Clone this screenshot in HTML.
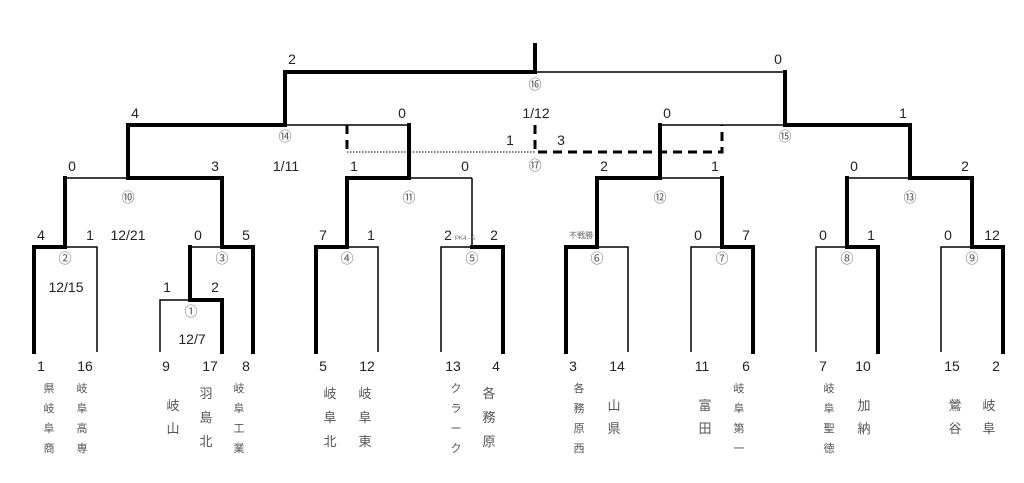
<!DOCTYPE html>
<html><head><meta charset="utf-8"><style>
html,body{margin:0;padding:0;background:#fff;}
svg{display:block;}
text{font-family:"Liberation Sans","Noto Sans CJK JP",sans-serif;fill:#222;}
.s{font-size:14px;text-anchor:middle;}
.c{font-size:13px;text-anchor:middle;fill:#555;}
.n{font-size:13px;text-anchor:middle;fill:#555;}
.ns{font-size:11px;text-anchor:middle;fill:#555;}
</style></head><body>
<svg width="1024" height="483" viewBox="0 0 1024 483" xmlns="http://www.w3.org/2000/svg">
<g fill="none" stroke="#000" stroke-width="1.5">
<!-- thin lines -->
<path d="M65 247H97V352"/>
<path d="M160 352V300H190"/>
<path d="M190 247H222"/>
<path d="M65 178H128"/>
<path d="M347 247H378V352"/>
<path d="M441 352V247H472V178"/>
<path d="M409 178H472"/>
<path d="M285 125H409"/>
<path d="M597 247H628V352"/>
<path d="M691 352V247H722"/>
<path d="M660 178H722V247"/>
<path d="M660 125H785"/>
<path d="M535 72H785"/>
<path d="M816 352V247H847"/>
<path d="M847 178H910"/>
<path d="M941 352V247H972"/>
<path d="M347 152H535" stroke-dasharray="1.5 1.5" stroke-width="1"/>
</g>
<g fill="none" stroke="#000" stroke-width="4" stroke-linecap="square">
<path d="M34 352V247H65V178"/>
<path d="M222 352V300H190V247"/>
<path d="M253 352V247H222V178H128V125H285V72H535V45"/>
<path d="M316 352V247H347V178H409V125"/>
<path d="M503 352V247H472"/>
<path d="M566 352V247H597V178H660V125"/>
<path d="M753 352V247H722V178"/>
<path d="M878 352V247H847V178"/>
<path d="M1003 352V247H972V178H910V125H785V72"/>
</g>
<g fill="none" stroke="#000" stroke-width="3" stroke-dasharray="9 6">
<path d="M347 125V152"/>
<path d="M535 125V152H722V125"/>
</g>
<!-- round1 scores -->
<g class="s">
<text x="41" y="240" class="s">4</text><text x="90" y="240" class="s">1</text>
<text x="198" y="240" class="s">0</text><text x="246" y="240" class="s">5</text>
<text x="323" y="240" class="s">7</text><text x="371" y="240" class="s">1</text>
<text x="448" y="240" class="s">2</text><text x="494" y="240" class="s">2</text>
<text x="698" y="240" class="s">0</text><text x="746" y="240" class="s">7</text>
<text x="823" y="240" class="s">0</text><text x="871" y="240" class="s">1</text>
<text x="948" y="240" class="s">0</text><text x="992" y="240" class="s">12</text>
<text x="167" y="292" class="s">1</text><text x="215" y="292" class="s">2</text>
<text x="72" y="171" class="s">0</text><text x="215" y="171" class="s">3</text>
<text x="354" y="171" class="s">1</text><text x="465" y="171" class="s">0</text>
<text x="604" y="171" class="s">2</text><text x="715" y="171" class="s">1</text>
<text x="854" y="171" class="s">0</text><text x="965" y="171" class="s">2</text>
<text x="135" y="118" class="s">4</text><text x="402" y="118" class="s">0</text>
<text x="667" y="118" class="s">0</text><text x="903" y="118" class="s">1</text>
<text x="292" y="64" class="s">2</text><text x="778" y="64" class="s">0</text>
<text x="510" y="145" class="s">1</text><text x="561" y="145" class="s">3</text>
<text x="128" y="240" class="s">12/21</text>
<text x="66" y="292" class="s">12/15</text>
<text x="192" y="344" class="s">12/7</text>
<text x="286" y="171" class="s">1/11</text>
<text x="536" y="118" class="s">1/12</text>
</g>
<text x="465" y="240" style="font-size:6px;fill:#666;text-anchor:middle">PK4 - 5</text>
<text x="581" y="238" style="font-size:8px;fill:#666;text-anchor:middle">不戦勝</text>
<!-- circled -->
<g>
<text x="65" y="263" class="c">②</text><text x="222" y="263" class="c">③</text>
<text x="347" y="263" class="c">④</text><text x="472" y="263" class="c">⑤</text>
<text x="597" y="263" class="c">⑥</text><text x="722" y="263" class="c">⑦</text>
<text x="847" y="263" class="c">⑧</text><text x="972" y="263" class="c">⑨</text>
<text x="191" y="316" class="c">①</text>
<text x="128" y="202" class="c">⑩</text><text x="409" y="202" class="c">⑪</text>
<text x="660" y="202" class="c">⑫</text><text x="910" y="202" class="c">⑬</text>
<text x="285" y="141" class="c">⑭</text><text x="785" y="141" class="c">⑮</text>
<text x="535" y="89" class="c">⑯</text><text x="535" y="170" class="c">⑰</text>
</g>
<!-- seed numbers -->
<g>
<text x="41" y="371" class="s">1</text><text x="85" y="371" class="s">16</text>
<text x="166" y="371" class="s">9</text><text x="210" y="371" class="s">17</text><text x="246" y="371" class="s">8</text>
<text x="323" y="371" class="s">5</text><text x="367" y="371" class="s">12</text>
<text x="453" y="371" class="s">13</text><text x="496" y="371" class="s">4</text>
<text x="573" y="371" class="s">3</text><text x="617" y="371" class="s">14</text>
<text x="702" y="371" class="s">11</text><text x="746" y="371" class="s">6</text>
<text x="823" y="371" class="s">7</text><text x="863" y="371" class="s">10</text>
<text x="952" y="371" class="s">15</text><text x="996" y="371" class="s">2</text>
</g>
<!-- names -->
<g class="ns">
<text x="49" y="392" class="ns">県</text><text x="49" y="412" class="ns">岐</text><text x="49" y="432" class="ns">阜</text><text x="49" y="452" class="ns">商</text>
<text x="82" y="392" class="ns">岐</text><text x="82" y="412" class="ns">阜</text><text x="82" y="432" class="ns">高</text><text x="82" y="452" class="ns">専</text>
<text x="239" y="392" class="ns">岐</text><text x="239" y="412" class="ns">阜</text><text x="239" y="432" class="ns">工</text><text x="239" y="452" class="ns">業</text>
<text x="456" y="392" class="ns">ク</text><text x="456" y="412" class="ns">ラ</text><text x="456" y="432" class="ns">ー</text><text x="456" y="452" class="ns">ク</text>
<text x="579" y="392" class="ns">各</text><text x="579" y="412" class="ns">務</text><text x="579" y="432" class="ns">原</text><text x="579" y="452" class="ns">西</text>
<text x="739" y="392" class="ns">岐</text><text x="739" y="412" class="ns">阜</text><text x="739" y="432" class="ns">第</text><text x="739" y="452" class="ns">一</text>
<text x="829" y="392" class="ns">岐</text><text x="829" y="412" class="ns">阜</text><text x="829" y="432" class="ns">聖</text><text x="829" y="452" class="ns">徳</text>
</g>
<g class="n">
<text x="173" y="410" class="n">岐</text><text x="173" y="433" class="n">山</text>
<text x="206" y="398" class="n">羽</text><text x="206" y="422" class="n">島</text><text x="206" y="446" class="n">北</text>
<text x="330" y="398" class="n">岐</text><text x="330" y="422" class="n">阜</text><text x="330" y="446" class="n">北</text>
<text x="365" y="398" class="n">岐</text><text x="365" y="422" class="n">阜</text><text x="365" y="446" class="n">東</text>
<text x="489" y="398" class="n">各</text><text x="489" y="422" class="n">務</text><text x="489" y="446" class="n">原</text>
<text x="614" y="410" class="n">山</text><text x="614" y="433" class="n">県</text>
<text x="705" y="410" class="n">富</text><text x="705" y="433" class="n">田</text>
<text x="864" y="410" class="n">加</text><text x="864" y="433" class="n">納</text>
<text x="955" y="410" class="n">鶯</text><text x="955" y="433" class="n">谷</text>
<text x="989" y="410" class="n">岐</text><text x="989" y="433" class="n">阜</text>
</g>
</svg>
</body></html>
